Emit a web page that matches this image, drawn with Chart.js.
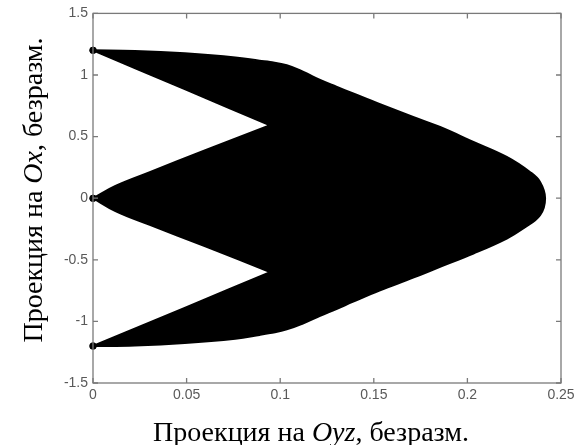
<!DOCTYPE html>
<html>
<head>
<meta charset="utf-8">
<script src="https://cdn.jsdelivr.net/npm/chart.js@4/dist/chart.umd.min.js"></script>
<style>
  html, body { margin: 0; padding: 0; background: #fff; }
  #wrap { width: 584px; height: 445px; position: relative; }
</style>
</head>
<body>
<div id="wrap"><canvas id="proj"></canvas></div>
<script>
// Внешний контур: сверху (0, 1.2) через нос (0.2415, 0) вниз до (0, -1.2)
var outerX = [0, 0.0224, 0.049, 0.076, 0.089, 0.0946, 0.1035, 0.1124, 0.1213, 0.130, 0.139, 0.153, 0.171, 0.1854, 0.2032, 0.221, 0.2334, 0.2388, 0.2415,
              0.2388, 0.2298, 0.221, 0.2032, 0.1854, 0.171, 0.153, 0.139, 0.130, 0.1213, 0.1124, 0.1035, 0.0946, 0.089, 0.076, 0.049, 0.0224, 0];
var outerY = [1.2, 1.195, 1.176, 1.143, 1.115, 1.105, 1.079, 1.025, 0.96, 0.905, 0.85, 0.765, 0.66, 0.578, 0.457, 0.335, 0.213, 0.132, 0,
              -0.138, -0.246, -0.327, -0.449, -0.557, -0.645, -0.75, -0.84, -0.9, -0.955, -1.015, -1.065, -1.095, -1.11, -1.14, -1.175, -1.195, -1.2];

// Внутренние края (снизу вверх), каждая пара — отдельный прямой участок
var lowerLobeX = [0, 0.049, 0.0946];
var lowerLobeY = [-1.2, -0.89, -0.6];
var lowerNotchX = [0.0946, 0.06, 0.03, 0.012, 0];
var lowerNotchY = [-0.6, -0.39, -0.215, -0.105, 0];
var upperNotchX = [0, 0.012, 0.03, 0.06, 0.0946];
var upperNotchY = [0, 0.1, 0.21, 0.39, 0.592];
var upperLobeX = [0.0946, 0.049, 0];
var upperLobeY = [0.592, 0.885, 1.2];

var xTicks = [0, 0.05, 0.1, 0.15, 0.2, 0.25];
var yTicks = [-1.5, -1, -0.5, 0, 0.5, 1, 1.5];

var xTitle = [['Проекция на ', false], ['Oyz', true], [', безразм.', false]];
var yTitle = [['Проекция на ', false], ['Ox', true], [', безразм.', false]];

// Участки склеиваются концами: общая точка повторяется, поэтому углы остаются острыми
var shape = [];
function addEdge(xs, ys) {
    for (var i = 0; i < xs.length; i++) shape.push({ x: xs[i], y: ys[i] });
}
addEdge(outerX, outerY);
addEdge(lowerLobeX, lowerLobeY);
addEdge(lowerNotchX, lowerNotchY);
addEdge(upperNotchX, upperNotchY);
addEdge(upperLobeX, upperLobeY);

var axisColor = '#7a7a7a';
var labelColor = '#595959';

// рамка и засечки внутрь по всем четырём сторонам
var boxPlugin = {
    id: 'box',
    afterDatasetsDraw: function (chart) {
        var c = chart.ctx, a = chart.chartArea;
        var sx = chart.scales.x, sy = chart.scales.y;
        var len = 5;
        c.save();
        c.strokeStyle = axisColor;
        c.lineWidth = 1.3;
        c.strokeRect(a.left, a.top, a.right - a.left, a.bottom - a.top);
        c.beginPath();
        xTicks.forEach(function (v) {
            var px = sx.getPixelForValue(v);
            c.moveTo(px, a.bottom); c.lineTo(px, a.bottom - len);
            c.moveTo(px, a.top); c.lineTo(px, a.top + len);
        });
        yTicks.forEach(function (v) {
            var py = sy.getPixelForValue(v);
            c.moveTo(a.left, py); c.lineTo(a.left + len, py);
            c.moveTo(a.right, py); c.lineTo(a.right - len, py);
        });
        c.stroke();
        c.restore();
    },
    afterDraw: function (chart) {
        var c = chart.ctx;
        var size = 28;
        function font(it) {
            return (it ? 'italic ' : '') + size + 'px "Liberation Serif", "Times New Roman", serif';
        }
        function drawRuns(runs, cx, baseY) {
            var total = 0;
            runs.forEach(function (r) { c.font = font(r[1]); total += c.measureText(r[0]).width; });
            var x = cx - total / 2;
            runs.forEach(function (r) {
                c.font = font(r[1]);
                c.fillText(r[0], x, baseY);
                x += c.measureText(r[0]).width;
            });
        }
        c.save();
        c.fillStyle = '#000';
        c.textBaseline = 'alphabetic';
        c.textAlign = 'left';
        drawRuns(xTitle, 311, 441);
        c.translate(42, 190);
        c.rotate(-Math.PI / 2);
        drawRuns(yTitle, 0, 0);
        c.restore();
    }
};

new Chart(document.getElementById('proj'), {
    type: 'scatter',
    data: {
        datasets: [{
            data: shape,
            showLine: true,
            fill: 'shape',
            tension: 0.4,
            backgroundColor: '#000',
            borderColor: '#000',
            borderWidth: 2,
            borderJoinStyle: 'round',
            pointRadius: function (ctx) {
                var p = ctx.raw;
                return p && p.x === 0 ? 3.5 : 0;
            },
            pointBackgroundColor: '#000',
            pointBorderWidth: 0,
            clip: 6
        }]
    },
    options: {
        responsive: true,
        maintainAspectRatio: false,
        animation: false,
        layout: { padding: { top: 13, right: 23, left: 0, bottom: 0 } },
        plugins: {
            legend: { display: false },
            tooltip: { enabled: false }
        },
        scales: {
            x: {
                type: 'linear',
                min: 0,
                max: 0.25,
                afterBuildTicks: function (s) { s.ticks = xTicks.map(function (v) { return { value: v }; }); },
                afterFit: function (s) { s.height = 62; },
                grid: { display: false, drawTicks: false },
                border: { display: false },
                ticks: {
                    padding: 4,
                    color: labelColor,
                    font: { family: '"Liberation Sans", Arial, sans-serif', size: 14 },
                    maxRotation: 0,
                    autoSkip: false,
                    callback: function (v) { return String(v); }
                }
            },
            y: {
                type: 'linear',
                min: -1.5,
                max: 1.5,
                afterBuildTicks: function (s) { s.ticks = yTicks.map(function (v) { return { value: v }; }); },
                afterFit: function (s) { s.width = 93; },
                grid: { display: false, drawTicks: false },
                border: { display: false },
                ticks: {
                    padding: 5,
                    color: labelColor,
                    font: { family: '"Liberation Sans", Arial, sans-serif', size: 14 },
                    autoSkip: false,
                    callback: function (v) { return String(v); }
                }
            }
        }
    },
    plugins: [boxPlugin]
});
</script>
</body>
</html>
